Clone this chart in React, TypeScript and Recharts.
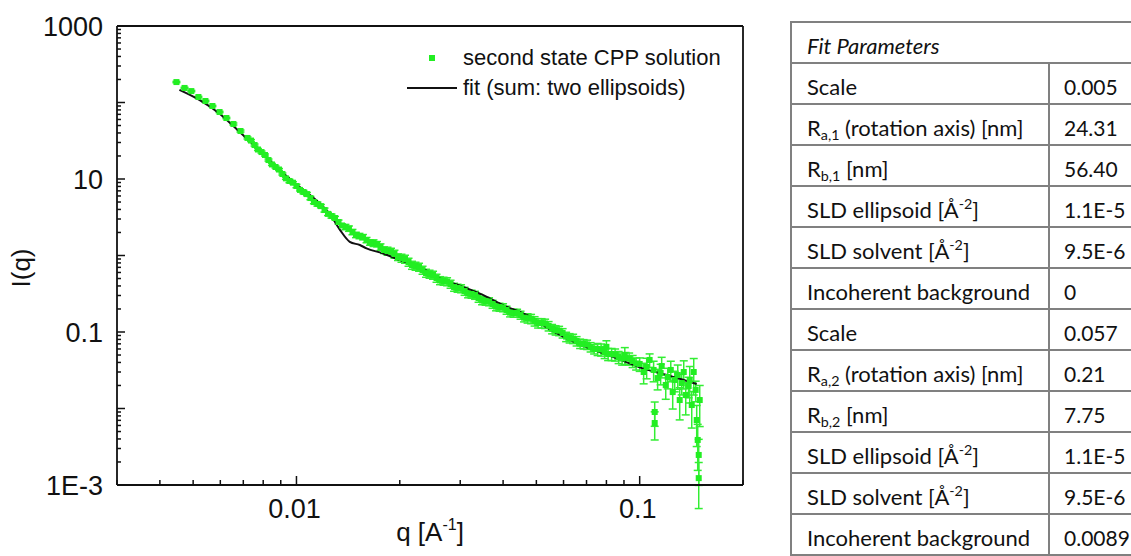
import { ComposedChart, Scatter, Line, XAxis, YAxis, ErrorBar, ReferenceLine, Legend } from "recharts";

// measured points (q in 1/A, intensity)
const qData = [
  0.00447, 0.00472, 0.00494, 0.00518, 0.00543, 0.00569, 0.00597, 0.00625, 0.00655, 0.00687,
  0.0072, 0.00755, 0.00791, 0.00829, 0.00869, 0.0091, 0.00954, 0.01, 0.01048, 0.01098,
  0.01151, 0.01207, 0.01265, 0.01326, 0.01389, 0.01456, 0.01526, 0.016, 0.01677, 0.01757,
  0.01842, 0.0193, 0.02023, 0.02121, 0.02223, 0.0233, 0.02442, 0.02559, 0.02683, 0.02812,
  0.02947, 0.03089, 0.03237, 0.03393, 0.03556, 0.03727, 0.03906, 0.04094, 0.04291, 0.04497,
  0.04714, 0.04941, 0.05179, 0.05428, 0.05689, 0.05963, 0.0625, 0.0655, 0.06865, 0.07195,
  0.07541, 0.07904, 0.08284, 0.08683, 0.09101, 0.09538, 0.1, 0.1048, 0.1098, 0.1151,
  0.1207, 0.1265, 0.1326, 0.1389, 0.1456,
  0.007371, 0.007724, 0.008095, 0.008484, 0.008893, 0.009319, 0.009768, 0.010238, 0.010729, 0.011241,
  0.011784, 0.012357, 0.012951, 0.013575, 0.01422, 0.014906, 0.015623, 0.01638, 0.017169, 0.017988,
  0.018858, 0.019759, 0.020711, 0.021714, 0.022759, 0.023854, 0.025001, 0.026199, 0.027468, 0.028789,
  0.030171, 0.031624, 0.03314, 0.034737, 0.036406, 0.038156, 0.039989, 0.041914, 0.04393, 0.046039,
  0.048261, 0.050585, 0.053022, 0.055571, 0.058243, 0.061048, 0.063986, 0.067058, 0.070282, 0.073661,
  0.077203, 0.08092, 0.08481, 0.088895, 0.093174, 0.097648,
  0.08, 0.0905, 0.1027, 0.1069, 0.1106, 0.1106, 0.1128, 0.1159, 0.1191, 0.1232,
  0.1248, 0.1291, 0.1308, 0.1344, 0.1362, 0.1399, 0.1418, 0.1437, 0.1466, 0.1476,
  0.1486, 0.1486, 0.1496,
];
const iData = [
  185, 155, 141, 118, 104.6, 90.0, 75.1, 62.7, 52.4, 42.4,
  34.4, 27.8, 22.5, 17.7, 14.35, 11.63, 9.42, 8.1, 6.76, 5.64,
  4.71, 3.93, 3.28, 2.74, 2.36, 2.03, 1.8, 1.594, 1.457, 1.291,
  1.145, 1.046, 0.927, 0.822, 0.729, 0.646, 0.573, 0.508, 0.464, 0.424,
  0.376, 0.343, 0.314, 0.278, 0.254, 0.232, 0.212, 0.194, 0.177, 0.167,
  0.152, 0.139, 0.131, 0.12, 0.106, 0.097, 0.0835, 0.0763, 0.0697, 0.0637,
  0.06, 0.0548, 0.0516, 0.0471, 0.0457, 0.0418, 0.0382, 0.0349, 0.0319, 0.0291,
  0.0258, 0.0236, 0.0215, 0.0197, 0.0175,
  31.8, 24.3, 20.6, 15.5, 13.3, 10.2, 8.95, 7.2, 6.35, 5.0,
  4.42, 3.5, 3.09, 2.47, 2.25, 1.86, 1.74, 1.48, 1.41, 1.18,
  1.13, 0.955, 0.9, 0.75, 0.707, 0.59, 0.556, 0.472, 0.457, 0.387,
  0.37, 0.318, 0.304, 0.258, 0.25, 0.215, 0.209, 0.179, 0.177, 0.154,
  0.149, 0.131, 0.129, 0.11, 0.104, 0.087, 0.082, 0.0707, 0.0686, 0.06,
  0.059, 0.0516, 0.0508, 0.045, 0.045, 0.0388,
  0.064, 0.05, 0.03, 0.0431, 0.009, 0.00646, 0.025, 0.0359, 0.0203, 0.0319,
  0.0164, 0.0274, 0.0129, 0.03, 0.015, 0.0236, 0.0111, 0.03, 0.00707, 0.00388,
  0.00247, 0.00123, 0.0129,
];
const relErr = [
  0.02, 0.02, 0.02, 0.02, 0.02, 0.02, 0.02, 0.02, 0.03, 0.03,
  0.03, 0.03, 0.03, 0.03, 0.03, 0.03, 0.05, 0.05, 0.05, 0.05,
  0.06, 0.06, 0.06, 0.06, 0.08, 0.08, 0.08, 0.08, 0.1, 0.1,
  0.12, 0.12, 0.12, 0.12, 0.12, 0.12, 0.12, 0.12, 0.12, 0.12,
  0.12, 0.12, 0.12, 0.12, 0.12, 0.12, 0.12, 0.12, 0.12, 0.12,
  0.14, 0.14, 0.14, 0.14, 0.14, 0.14, 0.14, 0.14, 0.14, 0.14,
  0.18, 0.18, 0.18, 0.18, 0.18, 0.18, 0.2, 0.3, 0.3, 0.3,
  0.3, 0.3, 0.3, 0.3, 0.3,
  0.03, 0.03, 0.03, 0.03, 0.03, 0.03, 0.03, 0.03, 0.05, 0.05,
  0.05, 0.05, 0.05, 0.05, 0.08, 0.08, 0.08, 0.08, 0.08, 0.1,
  0.1, 0.1, 0.12, 0.12, 0.12, 0.12, 0.12, 0.12, 0.12, 0.12,
  0.12, 0.12, 0.12, 0.12, 0.12, 0.12, 0.12, 0.12, 0.12, 0.12,
  0.14, 0.14, 0.14, 0.14, 0.14, 0.14, 0.14, 0.14, 0.14, 0.14,
  0.18, 0.18, 0.18, 0.18, 0.18, 0.18,
  0.2, 0.25, 0.3, 0.2, 0.35, 0.4, 0.3, 0.3, 0.35, 0.3,
  0.4, 0.35, 0.45, 0.4, 0.45, 0.5, 0.5, 0.5, 0.55, 0.6,
  0.6, 0.6, 0.55,
];

// fit curve (sum of two ellipsoids)
const fitQ = [
  0.00456, 0.00521, 0.00596, 0.00682, 0.0078, 0.00892, 0.0102, 0.0114, 0.0125, 0.0134,
  0.0143, 0.0153, 0.016, 0.0178, 0.02, 0.0228, 0.0261, 0.0305, 0.0349, 0.0409,
  0.0447, 0.0478, 0.0521, 0.0612, 0.0715, 0.0857, 0.102, 0.12, 0.1466,
];
const fitI = [
  146, 108, 72, 41.5, 23.9, 13.1, 7.93, 5.31, 3.49, 2.15,
  1.51, 1.37, 1.24, 1.07, 0.873, 0.714, 0.504, 0.391, 0.305, 0.214,
  0.184, 0.16, 0.124, 0.0828, 0.0612, 0.0453, 0.0335, 0.0274, 0.0209,
];

const legendLabels = ["second state CPP solution", "fit (sum: two ellipsoids)"];

const yLabelValues = [1000, 10, 0.1, 0.001];
const yLabelText = ["1000", "10", "0.1", "1E-3"];
const xLabelValues = [0.01, 0.1];
const xLabelText = ["0.01", "0.1"];
const yDecades = [0.001, 0.01, 0.1, 1, 10, 100];
const xDecades = [0.001, 0.01, 0.1];
const minorSteps = [1, 2, 3, 4, 5, 6, 7, 8, 9];

const paramLabels = [
  "Scale",
  "R_{a,1} (rotation axis) [nm]",
  "R_{b,1} [nm]",
  "SLD ellipsoid [Å^{-2}]",
  "SLD solvent [Å^{-2}]",
  "Incoherent background",
  "Scale",
  "R_{a,2} (rotation axis) [nm]",
  "R_{b,2} [nm]",
  "SLD ellipsoid [Å^{-2}]",
  "SLD solvent [Å^{-2}]",
  "Incoherent background",
];
const paramValues = ["0.005", "24.31", "56.40", "1.1E-5", "9.5E-6", "0", "0.057", "0.21", "7.75", "1.1E-5", "9.5E-6", "0.0089"];

const measured = qData.map((q, i) => ({ q, I: iData[i], err: iData[i] * relErr[i] }));
const fitData = fitQ.map((q, i) => ({ q, I: fitI[i] }));

const yTicks = [...yDecades.flatMap((d) => minorSteps.map((m) => m * d)), 1000];
const xTicks = xDecades
  .flatMap((d) => minorSteps.map((m) => m * d))
  .filter((v) => v >= 0.003 - 1e-9 && v <= 0.2 + 1e-9);

const FONT = "'Liberation Sans', Arial, sans-serif";
const INK = "#111";
const GREEN = "#22ee22";

const isDecade = (v: number) => Math.abs(Math.log10(v) - Math.round(Math.log10(v))) < 1e-9;
const findLabel = (v: number, vals: number[]) => vals.findIndex((l) => Math.abs(v / l - 1) < 1e-6);

const YTick = (props: any) => {
  const { x, y, payload } = props;
  const v = payload.value;
  const idx = findLabel(v, yLabelValues);
  return (
    <g>
      <line x1={x} x2={x + (isDecade(v) ? 8 : 4)} y1={y} y2={y} stroke={INK} strokeWidth={1.5} />
      {idx >= 0 && (
        <text x={x - 14} y={y} dy="0.36em" textAnchor="end" fontSize={27} fontFamily={FONT} fill={INK}>
          {yLabelText[idx]}
        </text>
      )}
    </g>
  );
};

const XTick = (props: any) => {
  const { x, y, payload } = props;
  const v = payload.value;
  const idx = findLabel(v, xLabelValues);
  return (
    <g>
      <line x1={x} x2={x} y1={y} y2={y - (isDecade(v) ? 9 : 5)} stroke={INK} strokeWidth={1.5} />
      {idx >= 0 && (
        <text x={x - 2} y={y + 33} textAnchor="middle" fontSize={27} fontFamily={FONT} fill={INK}>
          {xLabelText[idx]}
        </text>
      )}
    </g>
  );
};

const XTitle = (props: any) => {
  const { x, y, width } = props.viewBox;
  return (
    <text x={x + width / 2} y={y + 56} textAnchor="middle" fontSize={26} fontFamily={FONT} fill={INK}>
      q [A<tspan dy={-11} fontSize={16}>-1</tspan>
      <tspan dy={11}>]</tspan>
    </text>
  );
};

const YTitle = (props: any) => {
  const { x, y } = props.viewBox;
  return (
    <text
      transform={`translate(${x + 30}, ${y + 242}) rotate(-90)`}
      textAnchor="middle"
      fontSize={26}
      fontFamily={FONT}
      fill={INK}
    >
      I(q)
    </text>
  );
};

const GreenSquare = (props: any) => {
  const { cx, cy } = props;
  if (cx == null || cy == null) return <g />;
  return <rect x={cx - 3} y={cy - 3} width={6} height={6} fill={GREEN} />;
};

const LegendBox = () => (
  <div style={{ fontFamily: FONT, fontSize: 22, color: INK, lineHeight: "30px" }}>
    {legendLabels.map((label, i) => (
      <div key={label} style={{ display: "flex", alignItems: "center", whiteSpace: "nowrap" }}>
        <div style={{ width: 56, height: 30, position: "relative" }}>
          {i === 0 ? (
            <div style={{ position: "absolute", left: 22, top: 12, width: 6, height: 6, background: GREEN }} />
          ) : (
            <div style={{ position: "absolute", left: 0, top: 14, width: 50, height: 2, background: INK }} />
          )}
        </div>
        <span>{label}</span>
      </div>
    ))}
  </div>
);

const scriptStyle: React.CSSProperties = {
  fontSize: "0.65em",
  verticalAlign: "baseline",
  position: "relative",
  lineHeight: 0,
};

// "R_{a,1}" -> subscript, "Å^{-2}" -> superscript
const RichLabel = ({ text }: { text: string }) => {
  const parts = text.split(/([_^]\{[^}]*\})/).filter((p) => p !== "");
  return (
    <>
      {parts.map((p, i) => {
        if (p.startsWith("_{"))
          return <span key={i} style={{ ...scriptStyle, top: "0.3em" }}>{p.slice(2, -1)}</span>;
        if (p.startsWith("^{"))
          return <span key={i} style={{ ...scriptStyle, top: "-0.6em" }}>{p.slice(2, -1)}</span>;
        return <span key={i}>{p}</span>;
      })}
    </>
  );
};

const cellStyle: React.CSSProperties = {
  border: "2px solid #808080",
  padding: "10px 0 0 15px",
  height: 29,
  verticalAlign: "top",
  lineHeight: "25px",
  whiteSpace: "nowrap",
  overflow: "hidden",
  boxSizing: "content-box",
};

const ParamTable = () => (
  <table
    style={{
      position: "absolute",
      left: 790,
      top: 21,
      borderCollapse: "collapse",
      tableLayout: "fixed",
      width: 348,
      fontFamily: "Lato, 'Open Sans', sans-serif",
      fontSize: 22,
      color: INK,
    }}
  >
    <colgroup>
      <col style={{ width: 258 }} />
      <col style={{ width: 90 }} />
    </colgroup>
    <tbody>
      <tr>
        <td colSpan={2} style={{ ...cellStyle, fontStyle: "italic" }}>
          Fit Parameters
        </td>
      </tr>
      {paramLabels.map((label, i) => (
        <tr key={i}>
          <td style={cellStyle}>
            <RichLabel text={label} />
          </td>
          <td style={{ ...cellStyle, paddingLeft: 14, fontSize: 21 }}>{paramValues[i]}</td>
        </tr>
      ))}
    </tbody>
  </table>
);

export default function App() {
  return (
    <div style={{ position: "absolute", left: 0, top: 0, width: 1131, height: 556, background: "#fff", overflow: "hidden" }}>
      <ComposedChart width={760} height={556} margin={{ top: 26, right: 17, bottom: 0, left: 0 }}>
        <XAxis
          dataKey="q"
          type="number"
          scale="log"
          domain={[0.003, 0.2]}
          allowDataOverflow
          ticks={xTicks}
          interval={0}
          tick={XTick}
          tickLine={false}
          tickSize={0}
          tickMargin={0}
          axisLine={{ stroke: INK, strokeWidth: 1.8 }}
          height={71}
          label={XTitle}
        />
        <YAxis
          dataKey="I"
          type="number"
          scale="log"
          domain={[0.001, 1000]}
          allowDataOverflow
          ticks={yTicks}
          interval={0}
          tick={YTick}
          tickLine={false}
          tickSize={0}
          tickMargin={0}
          axisLine={{ stroke: INK, strokeWidth: 1.8 }}
          width={117}
          label={YTitle}
        />
        <ReferenceLine y={1000} stroke={INK} strokeWidth={1.8} />
        <ReferenceLine x={0.2} stroke={INK} strokeWidth={1.8} />
        <Scatter data={measured} dataKey="I" shape={GreenSquare} isAnimationActive={false}>
          <ErrorBar dataKey="err" direction="y" width={4} stroke="#33ee33" strokeWidth={1.5} />
        </Scatter>
        <Line
          data={fitData}
          dataKey="I"
          type="monotone"
          stroke={INK}
          strokeWidth={2}
          dot={false}
          activeDot={false}
          isAnimationActive={false}
        />
        <Legend
          layout="horizontal"
          verticalAlign="middle"
          align="center"
          content={LegendBox}
          wrapperStyle={{ top: 43, left: 407, width: "auto", height: "auto" }}
        />
      </ComposedChart>
      <ParamTable />
    </div>
  );
}
